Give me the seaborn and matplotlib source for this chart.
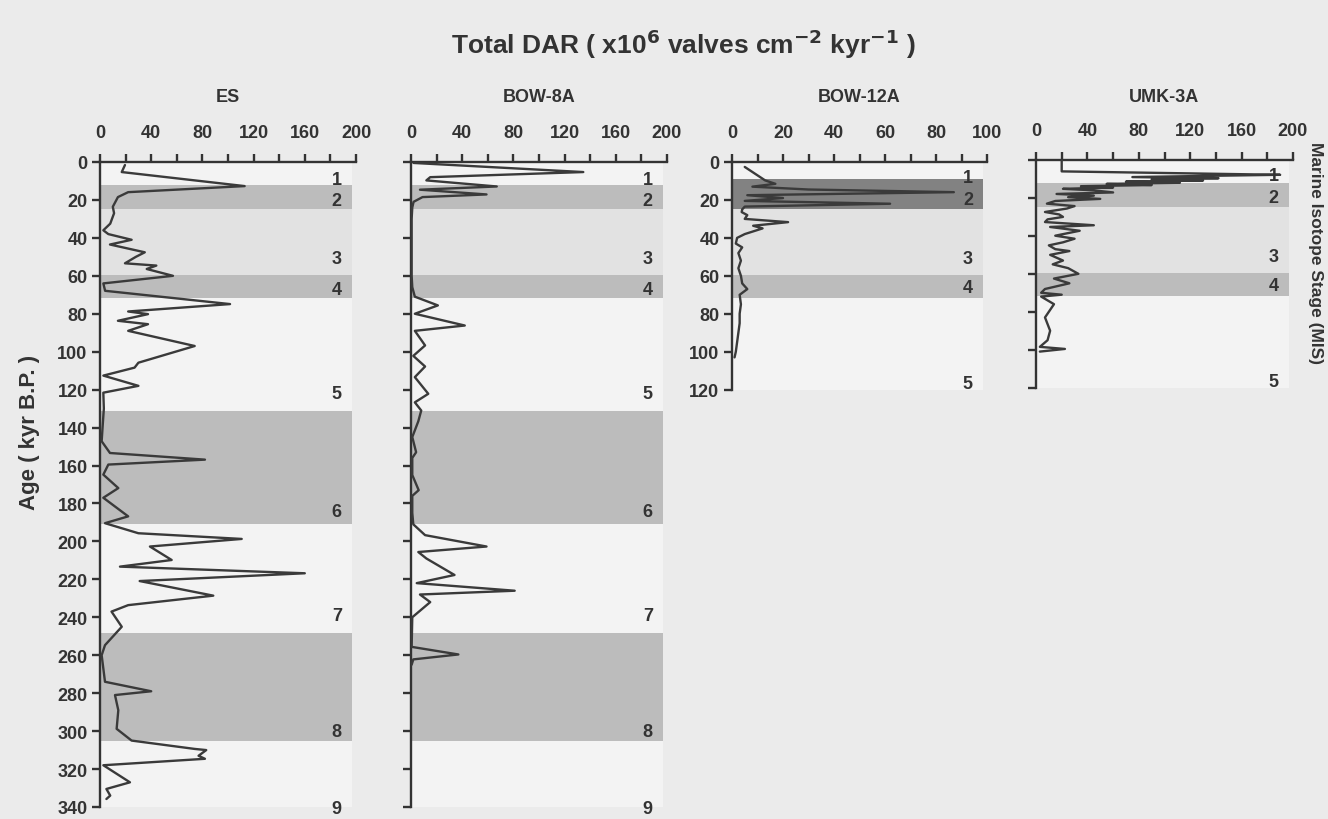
import numpy as np
import pandas as pd
import matplotlib
matplotlib.use("Agg")
import matplotlib.pyplot as plt
import seaborn as sns

# ---------------- data ----------------
es_age = [1.6, 5.3, 12.7, 15.9, 18.5, 23.6, 27, 32.5, 36, 38, 41, 43.5, 47.6, 50, 53.4, 54.6, 56.4, 60,
          64, 67.9, 74.9, 78.8, 80.2, 83.7, 85.5, 89, 97, 105.8, 108.4, 112.6, 118, 121.6, 130, 140,
          147.2, 153.4, 156.9, 159.5, 164.8, 171.9, 177, 186.8, 190.4, 195.7, 198.7, 202.7, 209.8,
          213.3, 216.8, 220.9, 228.6, 233.6, 237, 245, 254.7, 260, 274, 279, 281, 289, 298.8, 305,
          309.4, 310, 313, 314.6, 318, 327, 330.5, 334, 335.8]
es_dar = [19.5, 17, 113, 22, 14, 10, 11, 8, 2.6, 6.5, 24.7, 7.8, 35, 28, 19.5, 44, 36.5, 57,
          2.6, 4, 101.6, 22, 37.5, 14, 37.5, 22, 74, 30, 27, 2.6, 30, 2.6, 3, 2,
          1.3, 7.8, 82, 6.5, 2.6, 14.3, 2.6, 22, 3.9, 30, 110.7, 39, 56,
          15.6, 160, 31, 88.5, 22, 9, 17, 3.9, 1.3, 3.9, 40, 11.7, 14.3, 13, 24.7,
          74, 83, 77, 82, 2.6, 23.4, 5, 8, 5]

bow8_age = [0.5, 5.3, 8, 9.7, 12.9, 14.6, 17.1, 18.5, 21, 24, 30, 40, 50, 60, 66, 71, 75.6, 80, 86.2,
            89, 96.7, 102.2, 107.8, 113.4, 122.2, 126.7, 131, 136.7, 145, 153, 156, 165, 173, 176,
            185, 191, 196.7, 202.7, 205.6, 209, 217.7, 222, 226, 228, 232, 240, 255.6, 259.6,
            262.2, 265]
bow8_dar = [2, 134.6, 15, 12, 67, 7, 59, 9, 2, 1, 0.5, 0.5, 0.5, 0.5, 1, 3, 21, 3, 42,
            3, 11, 1.8, 11, 3, 13.5, 3, 8, 5.7, 1, 4, 1, 1, 6, 1,
            1, 1.8, 11, 59, 5.7, 12, 34, 4.5, 81, 7, 15, 1, 0.5, 37,
            1.8, 0.5]

bow12_age = [2.6, 9.7, 11.5, 13, 14.5, 15.9, 17.5, 19, 20.5, 22, 23.5, 25, 26.4, 28, 30, 31.7, 33.6,
             35, 38, 40, 43, 45, 48, 52, 56, 60, 64, 67, 70, 75, 80, 85, 90, 95, 100, 103]
bow12_dar = [5, 13, 17, 8, 30, 87, 6, 20, 5, 62, 5, 4, 3.8, 6, 5, 22, 8.3,
             12, 5, 2, 1.5, 4, 2.5, 3.5, 2.5, 3.5, 4, 6, 3, 3.5, 3, 3, 2.5, 2, 1.5, 1]

umk_age = [0, 3, 5.3, 6, 7.8, 8.3, 9, 9.6, 10.2, 10.8, 11.4, 12, 12.6, 13.2, 13.8, 14.5, 15.2, 16,
           17.1, 17.9, 18.8, 19.6, 20.5, 21.6, 23, 24.3, 25.6, 27.4, 28.7, 30, 31.3, 32.7, 34.4,
           35.3, 37.3, 39.9, 41.5, 43.4, 45, 47, 48, 50, 53, 55, 57, 60, 62.5, 65, 68, 70, 71,
           72, 76, 83, 90, 95, 98.5, 99.6, 101]
umk_dar = [20, 20, 20, 20, 190, 140, 75, 142, 90, 130, 70, 112, 55, 90, 35, 60, 21, 45,
           60, 16, 45, 25, 50, 15, 8.5, 30, 24, 7, 18, 21, 9, 7, 45,
           11, 34, 15, 30, 21, 10, 15, 26, 11, 21, 13, 25, 33, 14, 26, 7, 4, 20,
           4, 14, 7, 11, 9, 3, 22.5, 3]

cores = ["ES", "BOW-8A", "BOW-12A", "UMK-3A"]
x_max = [200, 200, 100, 200]
age_max = [340, 340, 120, 120]

# glacial (dark) stage intervals, light MIS 3, light interglacials
glacial_ranges = [(12, 25), (59.5, 71.5), (131, 191), (248.5, 305)]
mis3_range = (25, 59.5)
interglacial_ranges = [(0, 12), (71.5, 131), (191, 248.5), (305, 340)]
mis_labels = ["1", "2", "3", "4", "5", "6", "7", "8", "9"]
mis_label_age_long = [9, 20.5, 51, 67, 122, 184, 239, 300, 341]
mis_label_age_short = [8, 20, 51, 66, 117]

# ---------------- style ----------------
sns.set_theme(style="ticks")
plt.rcParams["font.family"] = ["Liberation Sans", "DejaVu Sans"]
plt.rcParams["font.weight"] = "bold"
ink = "#333333"

fig = plt.figure(figsize=(13.28, 8.2), dpi=100, facecolor="#ebebeb")
W, H = 1328.0, 820.0
pxk = 1.897  # pixels per kyr

geom = [  # left, right, top (px)
    (100, 356, 163),
    (411, 667, 163),
    (732, 987, 163),
    (1036, 1293, 161),
]

for i, core in enumerate(cores):
    left, right, top = geom[i]
    height_px = age_max[i] * pxk
    ax = fig.add_axes([left / W, 1 - (top + height_px) / H, (right - left) / W, height_px / H])
    ax.set_facecolor("none")
    xm = x_max[i]
    band_right = xm * 0.985

    # backgrounds
    for (a, b) in interglacial_ranges:
        if a < age_max[i]:
            ax.fill_betweenx([a, min(b, age_max[i])], 0, band_right, color="#f3f3f3", lw=0, zorder=0)
    ax.fill_betweenx(list(mis3_range), 0, band_right, color="#e2e2e2", lw=0, zorder=0)
    for j, (a, b) in enumerate(glacial_ranges):
        if a >= age_max[i]:
            continue
        col = "#bcbcbc"
        if core == "BOW-12A" and j == 0:
            a, col = 9, "#828282"
        ax.fill_betweenx([a, b], 0, band_right, color=col, lw=0, zorder=0.5)

    ages = [es_age, bow8_age, bow12_age, umk_age][i]
    dars = [es_dar, bow8_dar, bow12_dar, umk_dar][i]
    df = pd.DataFrame({"age": ages, "dar": dars})
    sns.lineplot(data=df, x="dar", y="age", sort=False, orient="y", estimator=None,
                 color="#3a3a3a", lw=1.7, ax=ax, zorder=3)

    ax.set_xlim(0, xm)
    ax.set_ylim(age_max[i], 0)
    ax.set_xlabel("")
    ax.set_ylabel("")

    ax.xaxis.tick_top()
    xstep = xm / 10
    xt = np.arange(0, xm + 0.1, xstep)
    ax.set_xticks(xt)
    ax.set_xticklabels([f"{int(v)}" if k % 2 == 0 else "" for k, v in enumerate(xt)])
    yt = np.arange(0, age_max[i] + 0.1, 20)
    ax.set_yticks(yt)
    if core in ("ES", "BOW-12A"):
        ax.set_yticklabels([f"{int(v)}" for v in yt])
    else:
        ax.set_yticklabels([])

    for s in ["right", "bottom"]:
        ax.spines[s].set_visible(False)
    for s in ["top", "left"]:
        ax.spines[s].set_color(ink)
        ax.spines[s].set_linewidth(1.7)
    ax.tick_params(axis="x", which="major", direction="out", length=6, width=1.7,
                   color=ink, labelcolor=ink, labelsize=13, pad=9)
    ax.tick_params(axis="y", which="major", direction="out", length=6, width=1.7,
                   color=ink, labelcolor=ink, labelsize=13, pad=3)
    for lab in ax.get_xticklabels() + ax.get_yticklabels():
        lab.set_fontweight("bold")

    # MIS numbers
    la = mis_label_age_long if age_max[i] > 200 else mis_label_age_short
    for lab, a in zip(mis_labels, la):
        ax.text(xm * 0.925, a, lab, ha="center", va="center", fontsize=13,
                fontweight="bold", color=ink, clip_on=False, zorder=4)

    # panel title
    fig.text((left + right) / 2 / W, 1 - 97 / H, core, ha="center", va="center",
             fontsize=13, fontweight="bold", color=ink)

fig.text(683 / W, 1 - 44 / H, "Total DAR ( x10$^{\\mathbf{6}}$ valves cm$^{\\mathbf{-2}}$ kyr$^{\\mathbf{-1}}$ )",
         ha="center", va="center", fontsize=19, fontweight="bold", color=ink)
fig.text(30 / W, 1 - 432 / H, "Age ( kyr B.P. )", rotation=90, ha="center", va="center",
         fontsize=16, fontweight="bold", color=ink)
fig.text(1316 / W, 1 - 253 / H, "Marine Isotope Stage (MIS)", rotation=270, ha="center",
         va="center", fontsize=12.5, fontweight="bold", color=ink)

fig.savefig("out.png", dpi=100, facecolor=fig.get_facecolor())
